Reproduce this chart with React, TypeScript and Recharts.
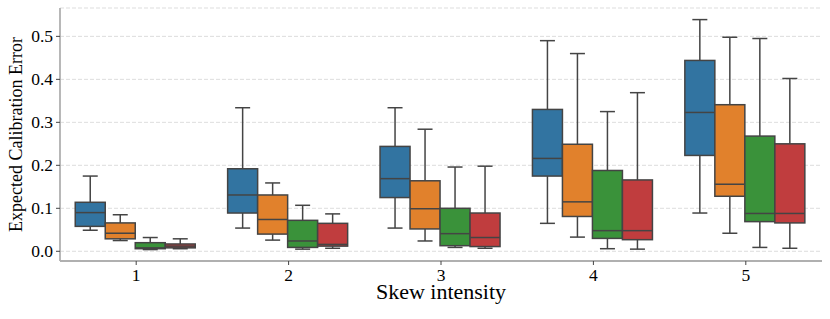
import React from 'react';
import { BarChart, Bar, XAxis, YAxis, CartesianGrid, Label } from 'recharts';

const categories = ['1', '2', '3', '4', '5'];
const seriesKeys = ['s0', 's1', 's2', 's3'];
const seriesColors = ['#3274A1', '#E1812C', '#3A923A', '#C03D3E'];
const yTicks = [0, 0.1, 0.2, 0.3, 0.4, 0.5];

// [min, q1, median, q3, max] per category
const blueStats = [
  [0.049, 0.058, 0.090, 0.114, 0.175],
  [0.054, 0.089, 0.131, 0.192, 0.334],
  [0.054, 0.125, 0.169, 0.244, 0.334],
  [0.065, 0.175, 0.216, 0.330, 0.490],
  [0.089, 0.223, 0.323, 0.444, 0.539],
];
const orangeStats = [
  [0.025, 0.029, 0.042, 0.066, 0.085],
  [0.026, 0.040, 0.074, 0.131, 0.159],
  [0.024, 0.052, 0.099, 0.164, 0.284],
  [0.033, 0.081, 0.115, 0.249, 0.460],
  [0.042, 0.128, 0.156, 0.341, 0.498],
];
const greenStats = [
  [0.004, 0.006, 0.008, 0.020, 0.032],
  [0.005, 0.009, 0.024, 0.072, 0.107],
  [0.009, 0.013, 0.041, 0.100, 0.196],
  [0.006, 0.030, 0.048, 0.188, 0.325],
  [0.009, 0.069, 0.088, 0.268, 0.495],
];
const redStats = [
  [0.006, 0.008, 0.012, 0.017, 0.029],
  [0.007, 0.012, 0.016, 0.065, 0.087],
  [0.007, 0.011, 0.032, 0.089, 0.198],
  [0.005, 0.027, 0.048, 0.166, 0.369],
  [0.007, 0.066, 0.088, 0.250, 0.402],
];

const allStats = [blueStats, orangeStats, greenStats, redStats];

const data = categories.map((c, i) => {
  const row: any = { cat: c };
  seriesKeys.forEach((k, j) => {
    row[k] = allStats[j][i];
  });
  return row;
});

const FONT = '"Liberation Serif", "DejaVu Serif", serif';
const LINE = '#444444';

const makeShape = (idx: number) => (props: any) => {
  const { x, y, width, height, payload } = props;
  const st = payload[seriesKeys[idx]];
  if (!st) return <g />;
  const [mn, q1, md, q3, mx] = st;
  const top = Math.min(y, y + height);
  const h = Math.abs(height);
  const span = mx - mn;
  const py = (v: number) => top + ((mx - v) / span) * h;
  const cx = x + width / 2;
  const capHalf = width / 4;
  const yMax = py(mx);
  const yQ3 = py(q3);
  const yMd = py(md);
  const yQ1 = py(q1);
  const yMin = py(mn);
  return (
    <g>
      <line x1={cx} x2={cx} y1={yMax} y2={yQ3} stroke={LINE} strokeWidth={1.5} />
      <line x1={cx} x2={cx} y1={yQ1} y2={yMin} stroke={LINE} strokeWidth={1.5} />
      <line x1={cx - capHalf} x2={cx + capHalf} y1={yMax} y2={yMax} stroke={LINE} strokeWidth={1.5} />
      <line x1={cx - capHalf} x2={cx + capHalf} y1={yMin} y2={yMin} stroke={LINE} strokeWidth={1.5} />
      <rect
        x={x}
        y={yQ3}
        width={width}
        height={Math.max(yQ1 - yQ3, 0.5)}
        fill={seriesColors[idx]}
        stroke={LINE}
        strokeWidth={1.5}
      />
      <line x1={x} x2={x + width} y1={yMd} y2={yMd} stroke={LINE} strokeWidth={1.5} />
    </g>
  );
};

const XTick = (props: any) => {
  const { x, y, payload } = props;
  return (
    <text x={x} y={y + 12} textAnchor="middle" fontFamily={FONT} fontSize={17.5} fill="#000">
      {payload.value}
    </text>
  );
};

const YTick = (props: any) => {
  const { x, y, payload } = props;
  return (
    <text x={x} y={y} textAnchor="end" dominantBaseline="central" fontFamily={FONT} fontSize={17.5} fill="#000">
      {Number(payload.value).toFixed(1)}
    </text>
  );
};

const YLabel = (props: any) => {
  const vb = props.viewBox || { x: 0, y: 8, width: 60, height: 253 };
  const cx = vb.x + 15.5;
  const cy = vb.y + vb.height / 2;
  return (
    <text
      x={cx}
      y={cy}
      transform={`rotate(-90, ${cx}, ${cy})`}
      textAnchor="middle"
      dominantBaseline="central"
      fontFamily={FONT}
      fontSize={18}
      fill="#000"
    >
      Expected Calibration Error
    </text>
  );
};

const XLabel = (props: any) => {
  const vb = props.viewBox || { x: 60, y: 261, width: 762, height: 58 };
  return (
    <text
      x={vb.x + vb.width / 2}
      y={vb.y + 38}
      textAnchor="middle"
      fontFamily={FONT}
      fontSize={22}
      fill="#000"
    >
      Skew intensity
    </text>
  );
};

export default function App() {
  return (
    <div style={{ position: 'absolute', left: 0, top: 0, width: 830, height: 319, background: '#fff' }}>
      <BarChart
        width={830}
        height={319}
        data={data}
        margin={{ top: 8, right: 8, left: 0, bottom: 0 }}
        barCategoryGap="10%"
        barGap={0}
      >
        <CartesianGrid vertical={false} stroke="#d4d4d4" strokeDasharray="4 2" strokeWidth={0.8} />
        <XAxis
          dataKey="cat"
          height={58}
          tickSize={4}
          tickMargin={4}
          axisLine={{ stroke: '#b0b0b0', strokeWidth: 1.8 }}
          tickLine={{ stroke: LINE, strokeWidth: 1 }}
          tick={<XTick />}
          interval={0}
        >
          <Label content={<XLabel />} />
        </XAxis>
        <YAxis
          width={60}
          domain={[-0.0226, 0.566]}
          allowDataOverflow
          ticks={yTicks}
          tickSize={4}
          tickMargin={3}
          axisLine={{ stroke: '#b0b0b0', strokeWidth: 1.8 }}
          tickLine={{ stroke: LINE, strokeWidth: 1 }}
          tick={<YTick />}
        >
          <Label content={<YLabel />} />
        </YAxis>
        {seriesKeys.map((k, i) => (
          <Bar
            key={k}
            dataKey={(d: any) => [d[k][0], d[k][4]]}
            isAnimationActive={false}
            shape={makeShape(i)}
            fill={seriesColors[i]}
          />
        ))}
      </BarChart>
    </div>
  );
}
